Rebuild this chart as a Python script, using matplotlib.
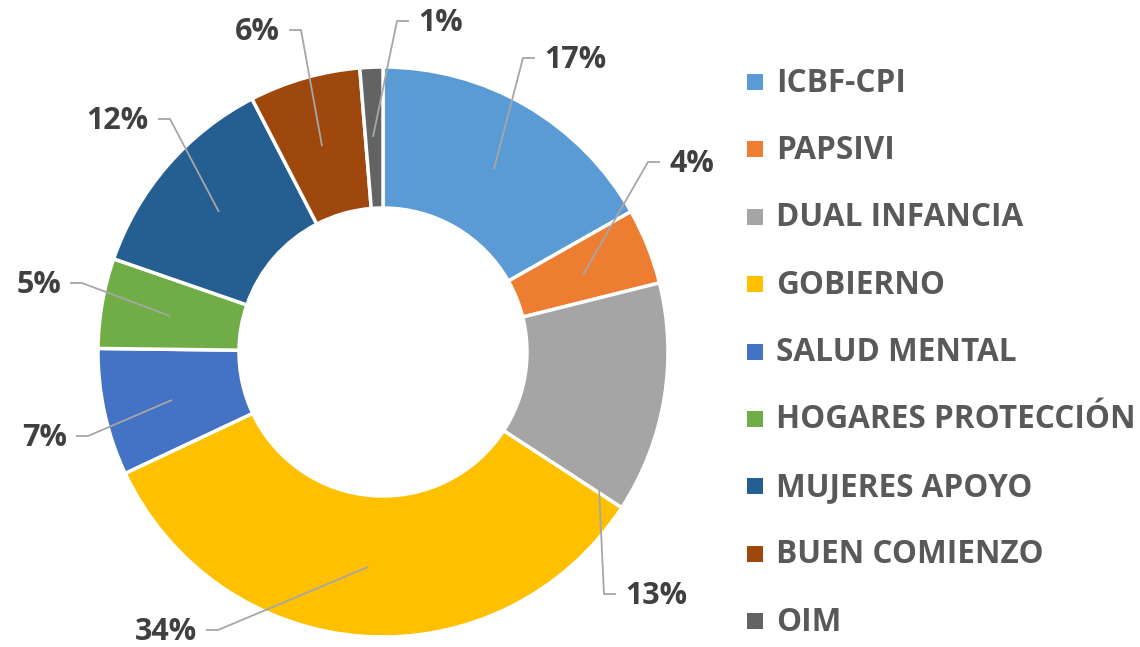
import matplotlib.pyplot as plt
from matplotlib.patches import Rectangle

plt.rcParams['font.family'] = ['Open Sans', 'DejaVu Sans']

categories = ['ICBF-CPI', 'PAPSIVI', 'DUAL INFANCIA', 'GOBIERNO', 'SALUD MENTAL',
              'HOGARES PROTECCIÓN', 'MUJERES APOYO', 'BUEN COMIENZO', 'OIM']
shares = [16.8, 4.3, 13.1, 33.8, 7.2, 5.1, 12.1, 6.3, 1.3]
pct_labels = ['17%', '4%', '13%', '34%', '7%', '5%', '12%', '6%', '1%']
colors = ['#5B9BD5', '#ED7D31', '#A5A5A5', '#FFC000', '#4472C4',
          '#70AD47', '#255E91', '#9E480E', '#636363']

W, H = 1140, 647

# layout of data labels in pixel coords: (start, elbow, side)
leaders = [
    ((494, 169), (523, 58), 1),
    ((583, 275), (648, 162), 1),
    ((599, 488), (604, 594), 1),
    ((368, 567), (218, 630), -1),
    ((172, 400), (88, 436), -1),
    ((170, 316), (82, 283), -1),
    ((219, 212), (170, 119), -1),
    ((322, 146), (301, 30), -1),
    ((373, 137), (397, 21), 1),
]

fig = plt.figure(figsize=(W / 100, H / 100), dpi=100)
ax = fig.add_axes([0, 0, 1, 1])

ax.pie(shares, colors=colors, startangle=90, counterclock=False,
       center=(383, H - 352), radius=285,
       wedgeprops=dict(width=141, edgecolor='white', linewidth=2.5))
ax.set_xlim(0, W)
ax.set_ylim(0, H)
ax.set_aspect('equal')
ax.axis('off')

for lab, (s, e, side) in zip(pct_labels, leaders):
    x2 = e[0] + 12 * side
    ax.plot([s[0], e[0], x2], [H - s[1], H - e[1], H - e[1]],
            color='#A6A6A6', lw=1.3, solid_capstyle='butt')
    ax.text(x2 + 9 * side, H - e[1] - 2, lab, fontsize=22, fontweight='bold',
            color='#404040', ha='left' if side > 0 else 'right', va='center')

# legend
for i, (cat, c) in enumerate(zip(categories, colors)):
    y = H - (82 + i * 67.4)
    ax.add_patch(Rectangle((747, y - 8), 16, 16, facecolor=c, edgecolor='none'))
    ax.text(776, y - 1, cat, fontsize=22.7, fontweight='bold', color='#595959',
            ha='left', va='center')

fig.savefig('out.png', dpi=100)
